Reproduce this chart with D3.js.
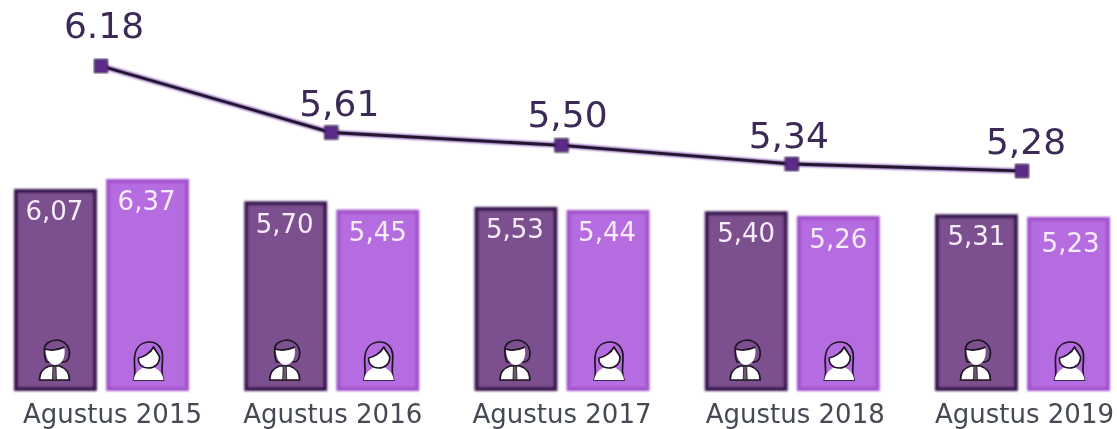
<!DOCTYPE html>
<html>
<head>
<meta charset="utf-8">
<script src="https://cdn.jsdelivr.net/npm/d3@7"></script>
<style>
	html, body { margin: 0; padding: 0; background: #fff; }
	svg { display: block; }
	text { font-family: "DejaVu Sans", sans-serif; }
</style>
</head>
<body>
<svg id="chart"></svg>
<script>
let periods = ['Agustus 2015', 'Agustus 2016', 'Agustus 2017', 'Agustus 2018', 'Agustus 2019'];
let genders = ['male', 'female'];
let maleValues = [6.07, 5.70, 5.53, 5.40, 5.31];
let femaleValues = [6.37, 5.45, 5.44, 5.26, 5.23];
let totalValues = [6.18, 5.61, 5.50, 5.34, 5.28];
let totalLabels = ['6.18', '5,61', '5,50', '5,34', '5,28'];

let w = 1117, h = 429;
let barBottom = 391;
let fmt = (v) => v.toFixed(2).replace('.', ',');

// the labels are not quite centred in the original
let axisNudge = [11, 1, 0, 3, 2];
let totalNudge = [[3, -28], [8, -17], [6, -18], [-3, -16], [4, -17]];
let maleNudge = [[-1, 0], [-1, 1], [-1, 0], [0, 0], [0, 0]];
let femaleNudge = [[-1, 0], [0, 0], [-1, 0], [0, 1], [2, 4]];

let chart = d3.select('#chart').attr('width', w).attr('height', h);

let xScale = d3.scalePoint().domain(periods).range([101, 1022]);
let barScale = d3.scaleBand().domain(genders).range([-87, 88]).paddingInner(0.1);
let barY = d3.scaleLinear().domain([0, 6.37]).range([barBottom, 179]);
let lineY = d3.scaleLinear().domain([5.28, 6.18]).range([171, 66]);

let colors = {
	male: { fill: '#7c508f', stroke: '#38184f' },
	female: { fill: '#b56ce0', stroke: '#a252cb' },
};

let soft = chart.append('defs').append('filter').attr('id', 'soft');
soft.append('feGaussianBlur').attr('stdDeviation', 0.8);
let softer = chart.select('defs').append('filter').attr('id', 'softer');
softer.append('feGaussianBlur').attr('stdDeviation', 0.5);

let rows = periods.map((p, i) => ({
	period: p, i: i, male: maleValues[i], female: femaleValues[i], total: totalValues[i],
}));

// BARS
let groups = chart.selectAll('.group')
	.data(rows)
	.enter()
	.append('g')
	.attr('class', 'group')
	.attr('transform', (d) => `translate(${xScale(d.period)},0)`);

genders.forEach((g) => {
	groups.append('rect')
		.attr('x', barScale(g) + 2)
		.attr('y', (d) => barY(d[g]) + 2)
		.attr('width', barScale.bandwidth() - 4)
		.attr('height', (d) => barBottom - barY(d[g]) - 4)
		.attr('fill', colors[g].fill)
		.attr('stroke', colors[g].stroke)
		.attr('stroke-width', 4)
		.attr('filter', 'url(#soft)');

	groups.append('text')
		.attr('x', (d) => barScale(g) + barScale.bandwidth() / 2 + (g == 'male' ? maleNudge : femaleNudge)[d.i][0])
		.attr('y', (d) => barY(d[g]) + 31 + (g == 'male' ? maleNudge : femaleNudge)[d.i][1])
		.attr('text-anchor', 'middle')
		.attr('font-size', 26)
		.attr('fill', '#f6ecfa')
		.attr('filter', 'url(#softer)')
		.text((d) => fmt(d[g]));
});

// ICONS
function drawMan(sel) {
	let ic = sel.append('g')
		.attr('transform', `translate(${barScale('male') + barScale.bandwidth() / 2 - 1},${barBottom - 1})`)
		.attr('stroke', '#1c1420')
		.attr('stroke-width', 1.7)
		.attr('stroke-linejoin', 'round')
		.attr('filter', 'url(#softer)');
	// hair
	ic.append('path').attr('fill', '#7c508f')
		.attr('d', 'M-10,-39 C-11,-47 -3,-50 3,-50 C10,-49 15,-44 15,-37 C15,-32 13,-28 9,-28 L-8,-28 C-10,-32 -10,-35 -10,-39 Z');
	// face
	ic.append('path').attr('fill', '#fff').attr('stroke', 'none')
		.attr('d', 'M-9,-41 C-3,-39 4,-40 10,-42 C11,-34 9,-26 1,-25 C-5,-25 -9,-32 -9,-41 Z');
	ic.append('path').attr('fill', 'none')
		.attr('d', 'M-10,-41 C-3,-39 4,-40 10,-43');
	// body
	ic.append('path').attr('fill', '#fff')
		.attr('d', 'M-15,-10 C-15,-17 -11,-22 -5,-24 L5,-24 C11,-22 15,-17 15,-10 Z');
	// tie
	ic.append('path').attr('fill', '#6d5a70').attr('stroke-width', 0.8)
		.attr('d', 'M-1.5,-24 L1.5,-24 L2,-10 L-2,-10 Z');
}

function drawWoman(sel) {
	let ic = sel.append('g')
		.attr('transform', `translate(${barScale('female') + barScale.bandwidth() / 2 + 1},${barBottom - 1})`)
		.attr('stroke', '#1c1420')
		.attr('stroke-width', 1.7)
		.attr('stroke-linejoin', 'round')
		.attr('filter', 'url(#softer)');
	// hair
	ic.append('path').attr('fill', '#b56ce0')
		.attr('d', 'M-15,-10 C-12,-17 -15,-24 -14,-33 C-13,-43 -7,-48 1,-48 C9,-48 14,-42 14,-33 C14,-24 12,-17 15,-10 Z');
	// body
	ic.append('path').attr('fill', '#fff').attr('stroke', 'none')
		.attr('d', 'M-15,-10 C-14,-17 -9,-21 -4,-23 L4,-23 C10,-21 14,-17 15,-10 Z');
	// face
	ic.append('path').attr('fill', '#fff')
		.attr('d', 'M-10,-32 C-5,-33 2,-37 5,-43 C7,-39 10,-36 11,-33 C11,-26 6,-22 0,-22 C-6,-22 -11,-26 -10,-32 Z');
}

groups.call(drawMan);
groups.call(drawWoman);

// LINE
let line = d3.line()
	.x((d) => xScale(d.period))
	.y((d) => lineY(d.total));

chart.append('path')
	.datum(rows)
	.attr('d', line)
	.attr('fill', 'none')
	.attr('stroke', '#7a49a6')
	.attr('stroke-width', 4.5)
	.attr('filter', 'url(#soft)');

chart.append('path')
	.datum(rows)
	.attr('d', line)
	.attr('fill', 'none')
	.attr('stroke', '#21182e')
	.attr('stroke-width', 2.8)
	.attr('filter', 'url(#softer)');

let markerSize = 13;
chart.selectAll('.point')
	.data(rows)
	.enter()
	.append('rect')
	.attr('class', 'point')
	.attr('x', (d) => xScale(d.period) - markerSize / 2)
	.attr('y', (d) => lineY(d.total) - markerSize / 2)
	.attr('width', markerSize)
	.attr('height', markerSize)
	.attr('fill', '#5d2a8a')
	.attr('stroke', '#3a2350')
	.attr('stroke-width', 1.5)
	.attr('filter', 'url(#soft)');

chart.selectAll('.total-label')
	.data(rows)
	.enter()
	.append('text')
	.attr('class', 'total-label')
	.attr('x', (d) => xScale(d.period) + totalNudge[d.i][0])
	.attr('y', (d) => lineY(d.total) + totalNudge[d.i][1])
	.attr('text-anchor', 'middle')
	.attr('font-size', 36)
	.attr('fill', '#3b2a58')
	.attr('filter', 'url(#softer)')
	.text((d) => totalLabels[d.i]);

// AXIS
let xAxis = d3.axisBottom(xScale).tickSize(0).tickPadding(0);
let xAxisGroup = chart.append('g')
	.attr('class', 'axis-bottom')
	.attr('transform', 'translate(0,405)')
	.call(xAxis);
xAxisGroup.select('.domain').remove();
xAxisGroup.selectAll('text')
	.attr('dx', (d, i) => axisNudge[i])
	.attr('font-family', '"DejaVu Sans", sans-serif')
	.attr('font-size', 26)
	.attr('fill', '#444a52')
	.attr('filter', 'url(#softer)');
</script>
</body>
</html>
